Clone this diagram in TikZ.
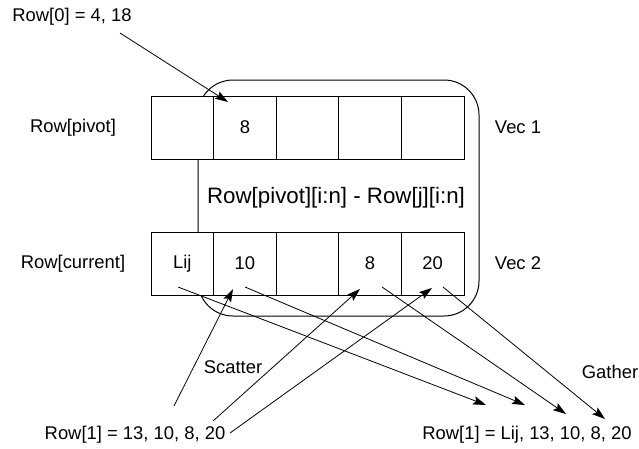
\documentclass[tikz,border=0pt]{standalone}
\usepackage{fontspec}
\setmainfont{Liberation Sans}
\usetikzlibrary{arrows.meta}
\begin{document}
\begin{tikzpicture}[x=1pt,y=-1pt,
  lbl/.style={font=\fontsize{18.4}{21}\selectfont, inner sep=0pt},
  cell/.style={draw, fill=white, line width=1pt, minimum width=62.6pt, minimum height=63pt, inner sep=0pt, font=\fontsize{18.4}{21}\selectfont},
  frame/.style={draw, line width=1pt, rounded corners=35pt, inner sep=0pt},
  link/.style={line width=0.8pt, -{Stealth[length=13pt,width=8.5pt,inset=2.5pt]}}]
\useasboundingbox (0,0) rectangle (639,448);

% enclosing rounded frame behind both vectors
\node[frame, minimum width=281pt, minimum height=236pt] (frame) at (338.5,198) {};

% pivot row (Vec 1)
\node[cell] (p1) at (182.3,127.5) {};
\node[cell] (p2) at (244.9,127.5) {8};
\node[cell] (p3) at (307.5,127.5) {};
\node[cell] (p4) at (370.1,127.5) {};
\node[cell] (p5) at (432.7,127.5) {};

% current row (Vec 2)
\node[cell] (c1) at (182.3,263.5) {Lij};
\node[cell] (c2) at (244.9,263.5) {10};
\node[cell] (c3) at (307.5,263.5) {};
\node[cell] (c4) at (370.1,263.5) {8};
\node[cell] (c5) at (432.7,263.5) {20};

% labels
\node[lbl] (row0) at (72,17) {Row[0] = 4, 18};
\node[lbl] (rpivot) at (73,127.5) {Row[pivot]};
\node[lbl] (rcur) at (73,263.5) {Row[current]};
\node[lbl] (vec1) at (518,127.5) {Vec 1};
\node[lbl] (vec2) at (518,263.5) {Vec 2};
\node[font=\fontsize{22.3}{25}\selectfont, inner sep=0pt] (diff) at (336,198) {Row[pivot][i:n] - Row[j][i:n]};
\node[lbl] (scatter) at (233,367) {Scatter};
\node[lbl] (gather) at (610,372) {Gather};
\node[lbl] (src) at (135,435) {Row[1] = 13, 10, 8, 20};
\node[lbl] (dst) at (527,435) {Row[1] = Lij, 13, 10, 8, 20};

% load of the pivot row
\coordinate (r0s) at (120,33);
\draw[link] (r0s) -- (228,102) coordinate (r0e);

% scatter into the current row
\coordinate (s1) at (174,406);
\coordinate (s2) at (213,421);
\coordinate (s3) at (230,433);
\draw[link] (s1) -- (233,289) coordinate (t1);
\draw[link] (s2) -- (360,289) coordinate (t2);
\draw[link] (s3) -- (432,288) coordinate (t3);

% gather out of the current row
\coordinate (g1) at (178,287);
\coordinate (g2) at (245,287);
\coordinate (g3) at (382,287);
\coordinate (g4) at (443,287);
\draw[link] (g1) -- (486,405) coordinate (h1);
\draw[link] (g2) -- (525,405) coordinate (h2);
\draw[link] (g3) -- (566,414) coordinate (h3);
\draw[link] (g4) -- (605,419) coordinate (h4);
\end{tikzpicture}
\end{document}
